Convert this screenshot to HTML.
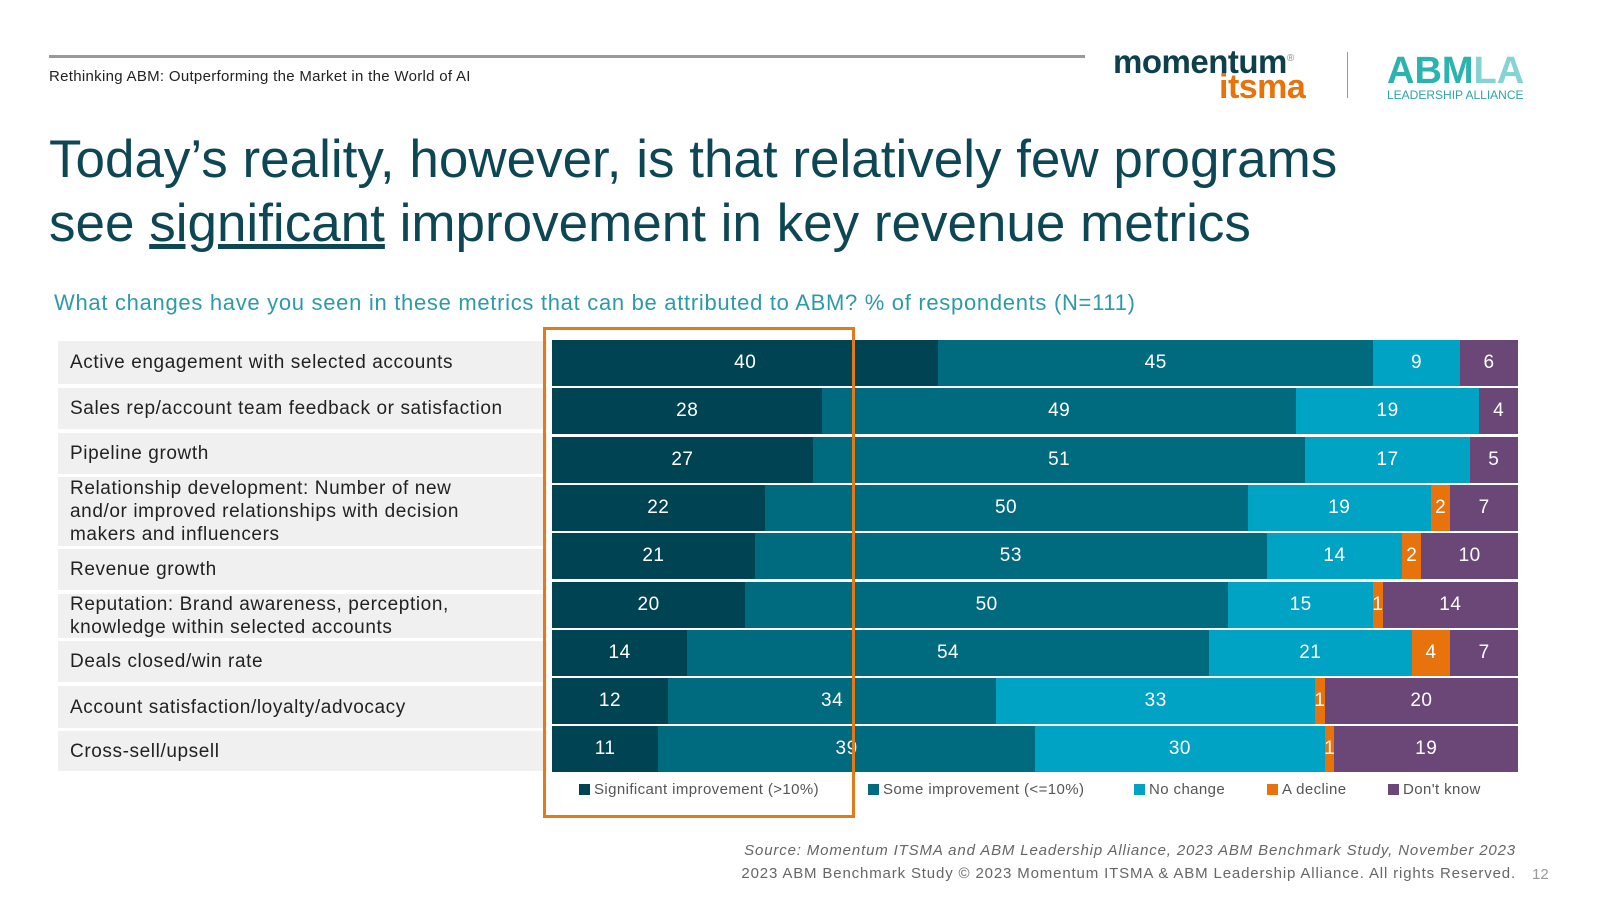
<!DOCTYPE html>
<html><head><meta charset="utf-8"><style>
body{margin:0;width:1600px;height:900px;background:#fff;font-family:"Liberation Sans",sans-serif;position:relative;overflow:hidden}
.abs{position:absolute}
.lbl{position:absolute;left:58px;width:489px;background:#f0f0f0;color:#222;font-size:19px;line-height:23px;display:flex;align-items:center;padding-left:12px;box-sizing:border-box;letter-spacing:0.6px}
.seg{position:absolute;color:#fff;font-size:19px;display:flex;align-items:center;justify-content:center;letter-spacing:0.5px}
.leg{position:absolute;top:781px;font-size:15px;color:#555;display:flex;align-items:center;letter-spacing:0.4px}
.leg i{display:inline-block;width:11px;height:11px;margin-right:4px}
</style></head><body>
<div class="abs" style="left:49px;top:55px;width:1036px;height:3px;background:#999"></div>
<div class="abs" style="left:49px;top:68px;font-size:15px;color:#222;letter-spacing:0.3px">Rethinking ABM: Outperforming the Market in the World of AI</div>
<div class="abs" style="left:1113px;top:43px;font-size:33px;font-weight:bold;color:#0d3f4c;letter-spacing:-0.5px">momentum<sup style="font-size:10px;font-weight:normal;color:#888">®</sup></div>
<div class="abs" style="left:1219px;top:68px;font-size:34px;font-weight:bold;color:#e8730c;letter-spacing:-0.5px">itsma</div>
<div class="abs" style="left:1347px;top:52px;width:1px;height:46px;background:#999"></div>
<div class="abs" style="left:1387px;top:50px;font-size:38px;font-weight:bold;color:#2bb3b0;letter-spacing:0px">ABM<span style="color:#85d3d3">LA</span></div>
<div class="abs" style="left:1387px;top:88px;font-size:12px;color:#2ba5a8;letter-spacing:0px">LEADERSHIP ALLIANCE</div>
<div class="abs" style="left:49px;top:128px;font-size:53px;line-height:64px;color:#0d4654">Today’s reality, however, is that relatively few programs<br>see <u>significant</u> improvement in key revenue metrics</div>
<div class="abs" style="left:54px;top:290px;font-size:22px;color:#2d9aa8;letter-spacing:0.7px">What changes have you seen in these metrics that can be attributed to ABM? % of respondents (N=111)</div>
<div id="chart"></div>
<div class="abs" style="left:543px;top:327px;width:306px;height:485px;border:3px solid #e07a1a"></div>
<div class="abs" style="right:84px;top:842px;font-size:15px;font-style:italic;color:#666;letter-spacing:0.85px">Source: Momentum ITSMA and ABM Leadership Alliance, 2023 ABM Benchmark Study, November 2023</div>
<div class="abs" style="right:84px;top:865px;font-size:15px;color:#666;letter-spacing:0.85px">2023 ABM Benchmark Study © 2023 Momentum ITSMA &amp; ABM Leadership Alliance. All rights Reserved.</div>
<div class="abs" style="left:1532px;top:866px;font-size:15px;color:#999">12</div>
<script>
const categories=["Active engagement with selected accounts","Sales rep/account team feedback or satisfaction","Pipeline growth","Relationship development: Number of new and/or improved relationships with decision makers and influencers","Revenue growth","Reputation: Brand awareness, perception, knowledge within selected accounts","Deals closed/win rate","Account satisfaction/loyalty/advocacy","Cross-sell/upsell"];
const significant=[40,28,27,22,21,20,14,12,11];
const some=[45,49,51,50,53,50,54,34,39];
const noChange=[9,19,17,19,14,15,21,33,30];
const decline=[0,0,0,2,2,1,4,1,1];
const dontKnow=[6,4,5,7,10,14,7,20,19];
const seriesNames=["Significant improvement (>10%)","Some improvement (<=10%)","No change","A decline","Don't know"];
const series=[significant,some,noChange,decline,dontKnow];
const colors=["#004454","#006b7e","#00a3c4","#e8730c","#6b4778"];
const chart=document.getElementById('chart');
const x0=552,W=966,y0=340,pitch=48.3,bh=46;
const xs=v=>v/100*W;
const panelTop=[341,388,433,477,549,594,641,686,731];
const panelBot=[384,429,474,546,590,638,682,728,771];
categories.forEach((c,i)=>{
  const l=document.createElement('div');l.className='lbl';
  
  
  l.style.top=panelTop[i]+'px';l.style.height=(panelBot[i]-panelTop[i])+'px';
  l.innerHTML='<span style="max-width:'+(i==3?400:(i==5?390:470))+'px">'+c+'</span>';
  chart.appendChild(l);
  let acc=0;
  series.forEach((s,k)=>{
    const v=s[i];if(!v){return;}
    const d=document.createElement('div');d.className='seg';
    
    
    d.style.left=(x0+xs(acc))+'px';d.style.width=xs(v)+'px';
    d.style.top=(y0+i*pitch)+'px';d.style.height=bh+'px';
    d.style.background=colors[k];d.textContent=v;
    chart.appendChild(d);acc+=v;
  });
});
const legX=[579,868,1134,1267,1388];
seriesNames.forEach((n,k)=>{
  const g=document.createElement('div');g.className='leg';
  
  
  g.style.left=legX[k]+'px';
  g.innerHTML='<i style="background:'+colors[k]+'"></i>'+n.replace(/</g,'&lt;').replace(/>/g,'&gt;');
  chart.appendChild(g);
});
</script>
</body></html>
